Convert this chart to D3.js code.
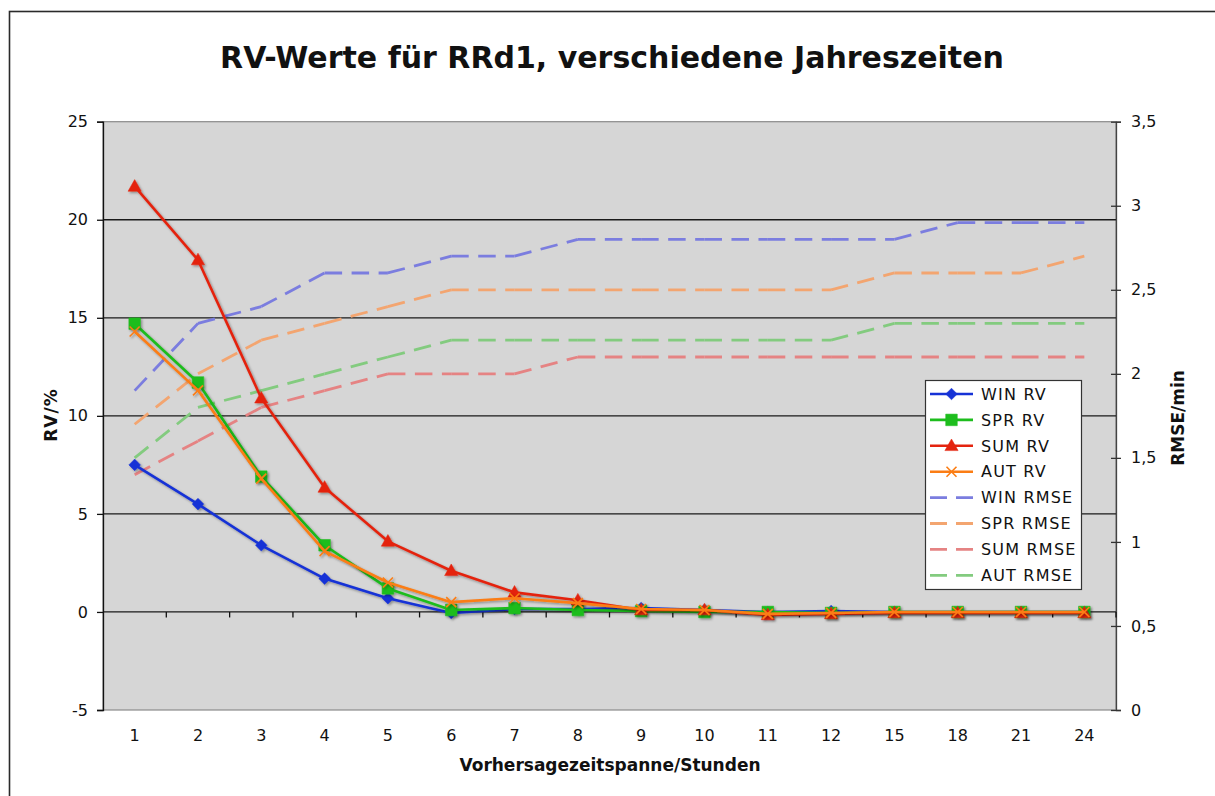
<!DOCTYPE html>
<html>
<head>
<meta charset="utf-8">
<script src="https://cdn.jsdelivr.net/npm/d3@7"></script>
<style>
  body { margin: 0; background: #fff; }
  svg { display: block; }
  text { font-family: "DejaVu Sans", Verdana, sans-serif; fill: #111; }
</style>
</head>
<body>
<svg id="chart" width="1215" height="796"></svg>
<script>
// Forecast horizon (hours)
const categories = ["1","2","3","4","5","6","7","8","9","10","11","12","15","18","21","24"];

// RV values in percent (left axis)
const winRV = [7.5, 5.5, 3.4, 1.7, 0.7, -0.05, 0.15, 0.15, 0.2, 0.1, 0.0, 0.05, 0, 0, 0, 0];
const sprRV = [14.7, 11.7, 6.9, 3.4, 1.2, 0.1, 0.2, 0.1, 0.05, 0.0, 0.0, -0.05, 0, 0, 0, 0];
const sumRV = [21.7, 17.95, 10.9, 6.35, 3.6, 2.1, 1.0, 0.6, 0.1, 0.1, -0.15, -0.1, -0.05, -0.05, -0.05, -0.05];
const autRV = [14.3, 11.3, 6.8, 3.1, 1.5, 0.5, 0.7, 0.45, 0.15, 0.1, -0.1, -0.05, 0, 0, 0, 0];

// RMSE in minutes (right axis)
const winRMSE = [1.9, 2.3, 2.4, 2.6, 2.6, 2.7, 2.7, 2.8, 2.8, 2.8, 2.8, 2.8, 2.8, 2.9, 2.9, 2.9];
const sprRMSE = [1.7, 2.0, 2.2, 2.3, 2.4, 2.5, 2.5, 2.5, 2.5, 2.5, 2.5, 2.5, 2.6, 2.6, 2.6, 2.7];
const sumRMSE = [1.4, 1.6, 1.8, 1.9, 2.0, 2.0, 2.0, 2.1, 2.1, 2.1, 2.1, 2.1, 2.1, 2.1, 2.1, 2.1];
const autRMSE = [1.5, 1.8, 1.9, 2.0, 2.1, 2.2, 2.2, 2.2, 2.2, 2.2, 2.2, 2.2, 2.3, 2.3, 2.3, 2.3];

// Axis ticks
const leftTicks = [-5, 0, 5, 10, 15, 20, 25];
const rightTicks = [0, 0.5, 1, 1.5, 2, 2.5, 3, 3.5];

const rvSeries = [
  { name: "WIN RV", values: winRV, color: "#1632d6", marker: "diamond" },
  { name: "SPR RV", values: sprRV, color: "#1dbd1d", marker: "square" },
  { name: "SUM RV", values: sumRV, color: "#e4240f", marker: "triangle" },
  { name: "AUT RV", values: autRV, color: "#fb7d14", marker: "x" }
];
const rmseSeries = [
  { name: "WIN RMSE", values: winRMSE, color: "#7b7ddf" },
  { name: "SPR RMSE", values: sprRMSE, color: "#f3a570" },
  { name: "SUM RMSE", values: sumRMSE, color: "#e58383" },
  { name: "AUT RMSE", values: autRMSE, color: "#83cb7f" }
];

const svg = d3.select("#chart");
const plot = { left: 103, right: 1116, top: 121.7, bottom: 710 };

const x = d3.scaleBand(categories, [plot.left, plot.right]);
const cx = c => x(c) + x.bandwidth() / 2;
const yL = d3.scaleLinear([-5, 25], [plot.bottom, plot.top]);
const yR = d3.scaleLinear([0, 3.5], [plot.bottom, plot.top]);

// German number format, plain hyphen for negatives
const deLocale = d3.formatLocale({ decimal: ",", thousands: ".", grouping: [3], currency: ["", " €"], minus: "-" });
const fmtR = deLocale.format(".2~f");
const fmtL = deLocale.format("d");

// shadow used by the solid series
const defs = svg.append("defs");
const sh = defs.append("filter").attr("id", "shadow")
  .attr("x", "-20%").attr("y", "-20%").attr("width", "140%").attr("height", "140%");
sh.append("feDropShadow").attr("dx", 1.5).attr("dy", 1.5)
  .attr("stdDeviation", 1).attr("flood-color", "#000").attr("flood-opacity", 0.35);

// outer frame
svg.append("rect").attr("x", 9.5).attr("y", 11.5).attr("width", 1400).attr("height", 1000)
  .attr("fill", "none").attr("stroke", "#2a2a2a").attr("stroke-width", 1.6);

// title
svg.append("text").attr("x", 612).attr("y", 68).attr("text-anchor", "middle")
  .attr("font-size", 30).attr("font-weight", "bold")
  .text("RV-Werte für RRd1, verschiedene Jahreszeiten");

// plot background
svg.append("rect").attr("x", plot.left).attr("y", plot.top)
  .attr("width", plot.right - plot.left).attr("height", plot.bottom - plot.top)
  .attr("fill", "#d6d6d6").attr("stroke", "#8a8a8a").attr("stroke-width", 1.2);

// horizontal gridlines
svg.append("g").selectAll("line")
  .data(leftTicks.filter(v => v > -5 && v < 25))
  .join("line")
  .attr("x1", plot.left).attr("x2", plot.right)
  .attr("y1", d => yL(d)).attr("y2", d => yL(d))
  .attr("stroke", "#1a1a1a").attr("stroke-width", 1.3);

// left axis
const gL = svg.append("g").attr("transform", `translate(${plot.left},0)`)
  .call(d3.axisLeft(yL).tickValues(leftTicks).tickSize(6).tickPadding(9).tickFormat(fmtL));
gL.select(".domain").attr("stroke", "#111").attr("stroke-width", 1.3);
gL.selectAll(".tick line").attr("stroke", "#111").attr("stroke-width", 1.3);
gL.selectAll(".tick text").attr("font-size", 16).attr("font-family", "DejaVu Sans").attr("fill", "#111");

// right axis
const gR = svg.append("g").attr("transform", `translate(${plot.right},0)`)
  .call(d3.axisRight(yR).tickValues(rightTicks).tickSize(5).tickPadding(10).tickFormat(fmtR));
gR.select(".domain").attr("stroke", "#444").attr("stroke-width", 1.3);
gR.selectAll(".tick line").attr("x1", -5).attr("stroke", "#333").attr("stroke-width", 1.3);
gR.selectAll(".tick text").attr("font-size", 16).attr("font-family", "DejaVu Sans").attr("fill", "#111");

// category boundary ticks hanging from the zero line
const boundaries = categories.slice(1).map(c => x(c)).concat([plot.right]);
svg.append("g").selectAll("line").data(boundaries).join("line")
  .attr("x1", d => d).attr("x2", d => d)
  .attr("y1", yL(0)).attr("y2", yL(0) + 5.5)
  .attr("stroke", "#111").attr("stroke-width", 1.3);

// category labels below the plot
const gX = svg.append("g").attr("transform", `translate(0,${plot.bottom})`)
  .call(d3.axisBottom(x).tickSize(0).tickPadding(19.5));
gX.select(".domain").remove();
gX.selectAll(".tick text").attr("font-size", 16).attr("font-family", "DejaVu Sans").attr("fill", "#111");

// axis titles
svg.append("text").attr("x", 610).attr("y", 771).attr("text-anchor", "middle")
  .attr("font-size", 17).attr("font-weight", "bold")
  .text("Vorhersagezeitspanne/Stunden");
svg.append("text").attr("transform", "translate(57,415) rotate(-90)").attr("text-anchor", "middle")
  .attr("font-size", 17).attr("font-weight", "bold").attr("letter-spacing", 1)
  .text("RV/%");
svg.append("text").attr("transform", "translate(1184,418) rotate(-90)").attr("text-anchor", "middle")
  .attr("font-size", 17).attr("font-weight", "bold")
  .text("RMSE/min");

// dashed RMSE lines, dash pattern restarting at every segment
const dash = "17.5,9.5";
rmseSeries.forEach(s => {
  const segs = d3.pairs(s.values.map((v, i) => [cx(categories[i]), yR(v)]));
  svg.append("g").selectAll("line").data(segs).join("line")
    .attr("x1", d => d[0][0]).attr("y1", d => d[0][1])
    .attr("x2", d => d[1][0]).attr("y2", d => d[1][1])
    .attr("stroke", s.color).attr("stroke-width", 2.8)
    .attr("stroke-dasharray", dash);
});

// marker shapes
function markerPath(type) {
  switch (type) {
    case "diamond": return "M0,-5.8L5.8,0L0,5.8L-5.8,0Z";
    case "square": return "M-5.8,-5.8H5.8V5.8H-5.8Z";
    case "triangle": return "M0,-6.8L6.6,4.8L-6.6,4.8Z";
    case "x": return "M-5,-5L5,5M-5,5L5,-5";
  }
}

const line = d3.line().x((d, i) => cx(categories[i])).y(d => yL(d));

rvSeries.forEach(s => {
  const g = svg.append("g").attr("filter", "url(#shadow)");
  g.append("path").datum(s.values).attr("d", line)
    .attr("fill", "none").attr("stroke", s.color).attr("stroke-width", 2.6)
    .attr("stroke-linejoin", "round");
  g.selectAll("path.m").data(s.values).join("path").attr("class", "m")
    .attr("transform", (d, i) => `translate(${cx(categories[i])},${yL(d)})`)
    .attr("d", markerPath(s.marker))
    .attr("fill", s.marker === "x" ? "none" : s.color)
    .attr("stroke", s.color).attr("stroke-width", s.marker === "x" ? 1.6 : 0.5);
});

// legend
const lg = svg.append("g");
lg.append("rect").attr("x", 925.5).attr("y", 380.5).attr("width", 156).attr("height", 209)
  .attr("fill", "#fff").attr("stroke", "#333").attr("stroke-width", 1.2);
const rowY = i => 394 + i * 25.9;
rvSeries.forEach((s, i) => {
  const y = rowY(i);
  lg.append("line").attr("x1", 930).attr("x2", 973).attr("y1", y).attr("y2", y)
    .attr("stroke", s.color).attr("stroke-width", 2.6);
  lg.append("path").attr("transform", `translate(951.5,${y})`).attr("d", markerPath(s.marker))
    .attr("fill", s.marker === "x" ? "none" : s.color)
    .attr("stroke", s.color).attr("stroke-width", s.marker === "x" ? 1.6 : 0.5);
  lg.append("text").attr("x", 981).attr("y", y).attr("dy", "0.36em")
    .attr("font-size", 16).attr("letter-spacing", 1.2).text(s.name);
});
rmseSeries.forEach((s, i) => {
  const y = rowY(i + 4);
  lg.append("line").attr("x1", 930).attr("x2", 973).attr("y1", y).attr("y2", y)
    .attr("stroke", s.color).attr("stroke-width", 2.8).attr("stroke-dasharray", "17,9");
  lg.append("text").attr("x", 981).attr("y", y).attr("dy", "0.36em")
    .attr("font-size", 16).attr("letter-spacing", 1.2).text(s.name);
});
</script>
</body>
</html>
